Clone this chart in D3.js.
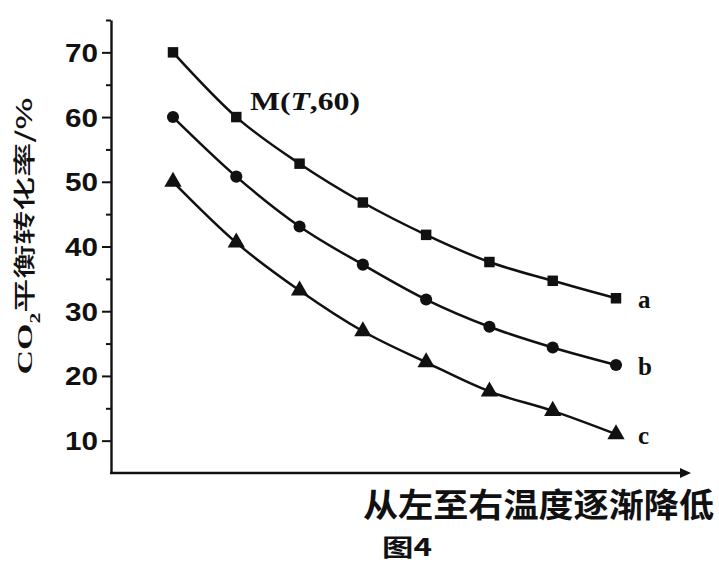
<!DOCTYPE html>
<html>
<head>
<meta charset="utf-8">
<script src="https://cdn.jsdelivr.net/npm/d3@7"></script>
<style>
  html, body { margin: 0; padding: 0; background: #fff; }
  svg { display: block; }
</style>
</head>
<body>
<svg id="chart" width="719" height="563"></svg>
<script>
// Temperature steps, left (hot) to right (cold)
const steps = [1, 2, 3, 4, 5, 6, 7, 8];
// CO2 equilibrium conversion (%) for the three curves
const seriesA = [70, 60, 52.8, 46.8, 41.8, 37.6, 34.7, 32.0];
const seriesB = [60, 50.8, 43.1, 37.2, 31.8, 27.6, 24.4, 21.7];
const seriesC = [50, 40.6, 33.2, 26.9, 22.1, 17.6, 14.6, 11.0];
const seriesNames = ["a", "b", "c"];
const seriesSymbols = [d3.symbolSquare, d3.symbolCircle, d3.symbolTriangle];
const majorTicks = [10, 20, 30, 40, 50, 60, 70];
const minorTicks = [15, 25, 35, 45, 55, 65, 75];
const yTitle = ["CO", "2", "平衡转化率/%"];
const xTitle = "从左至右温度逐渐降低";
const figCaption = "图4";
const pointLabel = ["M(", "T", ",60)"];

const ink = "#111";
const svg = d3.select("#chart");

const x = d3.scaleLinear().domain([1, 8]).range([173, 616]);
const y = d3.scaleLinear().domain([5, 75]).range([473, 20]);

// Y axis: major ticks with labels, minor ticks without
const yAxis = svg.append("g").attr("transform", "translate(111,0)")
  .call(d3.axisLeft(y).tickValues(majorTicks).tickSize(9).tickSizeOuter(0).tickPadding(4));
yAxis.select(".domain").attr("stroke", ink).attr("stroke-width", 2.4);
yAxis.selectAll(".tick line").attr("stroke", ink).attr("stroke-width", 2);
yAxis.selectAll(".tick text")
  .attr("fill", ink)
  .style("font-family", "'Liberation Sans', Arial, sans-serif")
  .style("font-weight", "bold")
  .style("font-size", "25px")
  .attr("textLength", 33)
  .attr("lengthAdjust", "spacingAndGlyphs")
  .attr("dy", "0.36em");

const yMinor = svg.append("g").attr("transform", "translate(111,0)")
  .call(d3.axisLeft(y).tickValues(minorTicks).tickSize(5).tickSizeOuter(0).tickFormat(""));
yMinor.select(".domain").remove();
yMinor.selectAll(".tick line").attr("stroke", ink).attr("stroke-width", 2);

// X axis: plain line with an arrow head
svg.append("line")
  .attr("x1", 110).attr("x2", 682)
  .attr("y1", y(5)).attr("y2", y(5))
  .attr("stroke", ink).attr("stroke-width", 2.6);
svg.append("path")
  .attr("d", d3.line()([[680, y(5) - 5], [691, y(5)], [680, y(5) + 5]]) + "Z")
  .attr("fill", ink);

// Curves
const series = [seriesA, seriesB, seriesC];
const line = d3.line()
  .x((d, i) => x(steps[i]))
  .y(d => y(d))
  .curve(d3.curveMonotoneX);

const symbolSizes = [110, 115, 130];

series.forEach((vals, k) => {
  svg.append("path")
    .datum(vals)
    .attr("d", line)
    .attr("fill", "none")
    .attr("stroke", ink)
    .attr("stroke-width", 2.5);

  svg.append("g").selectAll("path")
    .data(vals)
    .join("path")
    .attr("transform", (d, i) => `translate(${x(steps[i])},${y(d)})`)
    .attr("d", d3.symbol().type(seriesSymbols[k]).size(symbolSizes[k]))
    .attr("fill", ink);

  const last = vals[vals.length - 1];
  svg.append("text")
    .attr("x", x(steps[steps.length - 1]) + 22)
    .attr("y", y(last) + 10)
    .attr("fill", ink)
    .style("font-family", "'Liberation Serif', 'Times New Roman', serif")
    .style("font-weight", "bold")
    .style("font-size", "25px")
    .text(seriesNames[k]);
});

// Point annotation on curve a
const mText = svg.append("text")
  .attr("x", 250).attr("y", 110)
  .attr("fill", ink)
  .style("font-family", "'Liberation Serif', 'Times New Roman', serif")
  .style("font-weight", "bold")
  .style("font-size", "25px")
  .attr("textLength", 110)
  .attr("lengthAdjust", "spacingAndGlyphs");
mText.append("tspan").text(pointLabel[0]);
mText.append("tspan").style("font-style", "italic").text(pointLabel[1]);
mText.append("tspan").text(pointLabel[2]);

// Y axis title (rotated)
const yt = svg.append("text")
  .attr("transform", "translate(32,236) rotate(-90)")
  .attr("text-anchor", "middle")
  .attr("fill", ink)
  .style("font-family", "'Liberation Serif', 'Noto Sans CJK SC', serif")
  .style("font-size", "22px")
  .style("font-weight", "bold")
  .attr("textLength", 277)
  .attr("lengthAdjust", "spacingAndGlyphs");
yt.append("tspan").text(yTitle[0]);
yt.append("tspan").attr("baseline-shift", "sub").style("font-size", "14px").text(yTitle[1]);
yt.append("tspan").style("font-family", "'Noto Sans CJK SC', sans-serif").style("font-weight", "500").text(yTitle[2]);

// X axis title
svg.append("text")
  .attr("x", 363).attr("y", 517)
  .attr("fill", ink)
  .style("font-family", "'Noto Sans CJK SC', sans-serif")
  .style("font-weight", "bold")
  .style("font-size", "33px")
  .attr("textLength", 351)
  .attr("lengthAdjust", "spacingAndGlyphs")
  .text(xTitle);

// Figure caption
svg.append("text")
  .attr("x", 382).attr("y", 556)
  .attr("fill", ink)
  .style("font-family", "'Noto Sans CJK SC', sans-serif")
  .style("font-weight", "bold")
  .style("font-size", "24px")
  .attr("textLength", 50)
  .attr("lengthAdjust", "spacingAndGlyphs")
  .text(figCaption);
</script>
</body>
</html>
